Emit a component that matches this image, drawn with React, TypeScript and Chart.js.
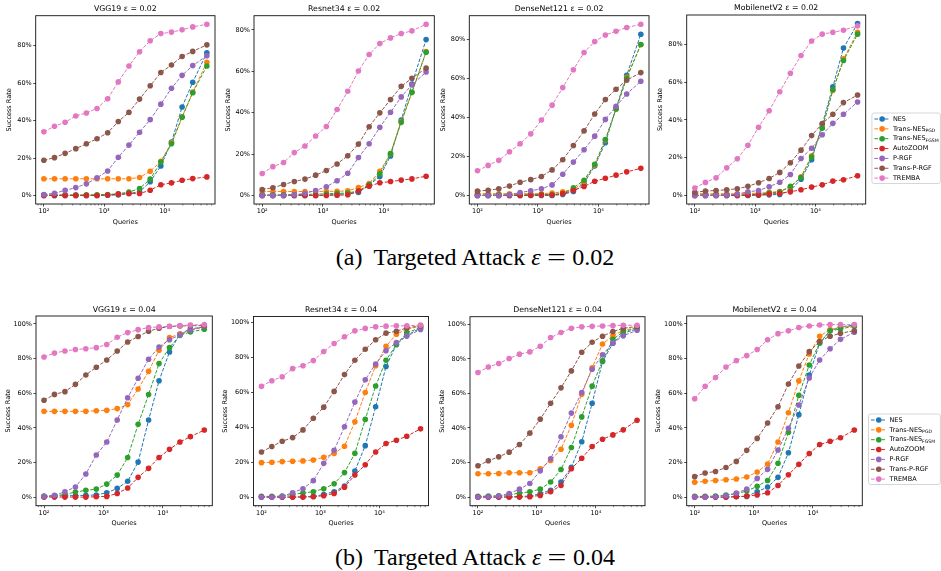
import React, { useEffect, useRef } from "react";
import { Chart, registerables } from "chart.js";

Chart.register(...registerables);

// ---------------- data ----------------
const queries = [100, 150, 225, 338, 506, 759, 1139, 1709, 2563, 3844, 5767, 8650, 12975, 19462, 29193, 50000];
const seriesNames = ["NES", "Trans-NES", "Trans-NES", "AutoZOOM", "P-RGF", "Trans-P-RGF", "TREMBA"];
const seriesSubs = ["", "PGD", "FGSM", "", "", "", ""];
const xTickValues = [100, 1000, 10000];
const xTickLabels = ["10²", "10³", "10⁴"];
const yTickValues = [0, 20, 40, 60, 80, 100];

// VGG19 eps 0.02
const vgg19_e02_nes = [0, 0, 0, 0, 0, 0, 0.1, 0.3, 1.0, 2.0, 7.3, 15.8, 28.5, 47.3, 60.5, 76.3];
const vgg19_e02_pgd = [8.9, 8.9, 8.9, 8.9, 8.9, 8.9, 8.9, 8.9, 8.9, 9.6, 12.9, 18.2, 28.1, 42.0, 55.2, 71.2];
const vgg19_e02_fgsm = [0.3, 0.3, 0.3, 0.3, 0.3, 0.4, 0.5, 0.9, 1.8, 3.7, 8.7, 17.9, 27.6, 41.8, 54.9, 69.2];
const vgg19_e02_zoo = [0, 0, 0, 0, 0, 0, 0.2, 0.7, 1.0, 1.0, 2.8, 5.7, 6.7, 8.1, 9.0, 9.9];
const vgg19_e02_prgf = [0.5, 1.2, 2.7, 4.2, 6.2, 9.4, 13.1, 20.4, 26.9, 33.8, 40.5, 48.8, 57.3, 64.2, 69.4, 74.7];
const vgg19_e02_tprgf = [18.8, 20.2, 22.5, 25.0, 27.6, 30.3, 33.5, 39.5, 44.4, 51.5, 58.6, 65.7, 69.7, 74.3, 77.0, 80.5];
const vgg19_e02_tremba = [34.0, 37.0, 39.1, 42.5, 44.1, 46.5, 51.7, 60.7, 69.2, 76.8, 82.7, 86.5, 87.3, 88.5, 90.1, 91.5];

// Resnet34 eps 0.02
const res34_e02_nes = [0, 0, 0, 0, 0, 0, 0.2, 0.5, 0.8, 1.4, 5.1, 9.1, 19.1, 36.4, 53.8, 75.3];
const res34_e02_pgd = [1.9, 1.9, 1.9, 1.9, 1.9, 1.9, 2.0, 2.0, 2.2, 3.8, 5.8, 11.7, 20.2, 35.7, 49.8, 69.5];
const res34_e02_fgsm = [0.3, 0.3, 0.3, 0.4, 0.5, 0.6, 0.8, 1.0, 1.2, 2.1, 5.3, 10.4, 20.2, 35.3, 49.8, 69.2];
const res34_e02_zoo = [0, 0, 0, 0, 0, 0, 0, 0.1, 0.3, 2.1, 4.5, 6.1, 6.7, 7.4, 8.0, 9.3];
const res34_e02_prgf = [0, 0, 0, 0.3, 1.0, 2.4, 4.2, 7.1, 10.7, 18.3, 25.0, 32.9, 40.2, 47.6, 53.4, 59.6];
const res34_e02_tprgf = [2.9, 3.7, 5.3, 6.7, 7.9, 9.8, 12.0, 15.2, 19.2, 24.8, 33.2, 39.9, 46.3, 52.7, 56.6, 61.5];
const res34_e02_tremba = [10.6, 13.9, 15.9, 20.7, 23.9, 28.7, 33.3, 41.5, 50.3, 60.1, 68.1, 73.4, 76.1, 78.2, 79.5, 82.7];

// DenseNet121 eps 0.02
const dense_e02_nes = [0, 0, 0, 0, 0, 0, 0, 0, 0.5, 2.0, 6.3, 15.1, 27.0, 44.7, 61.6, 82.7];
const dense_e02_pgd = [0.9, 0.9, 0.9, 0.9, 0.9, 0.9, 0.9, 1.2, 1.9, 2.9, 7.1, 15.6, 28.4, 44.3, 60.6, 77.3];
const dense_e02_fgsm = [0.3, 0.3, 0.3, 0.3, 0.4, 0.4, 0.5, 0.5, 1.0, 3.9, 7.8, 16.0, 28.7, 44.3, 60.1, 77.4];
const dense_e02_zoo = [0, 0, 0, 0, 0, 0.1, 0.2, 0.2, 1.0, 2.5, 4.6, 7.3, 8.8, 10.4, 12.1, 13.9];
const dense_e02_prgf = [0, 0, 0, 0.3, 1.5, 2.4, 3.4, 5.4, 10.9, 17.1, 23.4, 30.4, 39.0, 45.7, 52.0, 58.6];
const dense_e02_tprgf = [2.2, 2.7, 3.4, 4.8, 6.8, 8.1, 9.7, 13.1, 18.3, 25.6, 33.1, 41.8, 49.2, 54.5, 59.1, 63.0];
const dense_e02_tremba = [12.7, 15.4, 18.0, 22.4, 26.5, 31.6, 38.7, 46.3, 55.3, 64.5, 73.3, 78.9, 82.3, 84.2, 86.1, 87.8];

// MobilenetV2 eps 0.02
const mob_e02_nes = [0, 0, 0, 0, 0, 0, 0.1, 0.3, 0.5, 2.6, 8.6, 18.9, 37.7, 57.6, 78.1, 91.1];
const mob_e02_pgd = [0.9, 0.9, 0.9, 0.9, 0.9, 1.0, 1.2, 1.6, 2.1, 4.2, 9.9, 21.0, 36.1, 55.7, 72.4, 86.5];
const mob_e02_fgsm = [0.3, 0.3, 0.3, 0.3, 0.3, 0.4, 0.6, 1.2, 1.9, 4.8, 9.5, 20.3, 35.6, 56.0, 71.5, 85.5];
const mob_e02_zoo = [0, 0, 0, 0, 0, 0.1, 0.3, 0.7, 1.1, 1.9, 3.0, 4.4, 5.6, 7.6, 8.3, 10.4];
const mob_e02_prgf = [0, 0, 0, 0.2, 0.7, 1.9, 2.6, 4.6, 7.0, 11.1, 19.6, 25.0, 32.2, 38.2, 43.0, 49.5];
const mob_e02_tprgf = [1.6, 2.3, 2.6, 3.0, 3.5, 4.8, 6.7, 9.0, 12.2, 17.3, 24.0, 31.7, 38.1, 43.0, 49.2, 53.2];
const mob_e02_tremba = [3.9, 6.9, 9.3, 14.6, 19.4, 26.6, 36.1, 44.9, 55.0, 64.8, 74.2, 81.9, 85.5, 86.5, 87.6, 89.9];

// VGG19 eps 0.04
const vgg19_e04_nes = [0.4, 0.6, 0.8, 0.8, 1.0, 1.2, 2.5, 5.0, 9.1, 20.2, 44.5, 67.2, 83.8, 94.2, 97.1, 98.3];
const vgg19_e04_pgd = [49.5, 49.5, 49.5, 49.5, 49.5, 49.9, 50.1, 51.1, 53.4, 62.4, 72.6, 84.8, 92.1, 94.2, 96.5, 98.1];
const vgg19_e04_fgsm = [0.4, 0.8, 1.5, 2.9, 3.9, 4.6, 7.5, 12.7, 22.9, 42.0, 59.2, 77.1, 86.3, 93.4, 95.4, 96.9];
const vgg19_e04_zoo = [0, 0, 0, 0, 0, 0.2, 0.4, 2.1, 5.2, 11.4, 16.6, 22.9, 27.6, 31.8, 34.9, 38.7];
const vgg19_e04_prgf = [0.4, 1.0, 3.1, 5.8, 13.3, 24.3, 31.8, 44.5, 57.4, 68.6, 79.6, 86.7, 90.9, 93.6, 96.5, 98.5];
const vgg19_e04_tprgf = [55.9, 59.3, 60.9, 65.1, 70.5, 75.0, 79.2, 84.4, 89.6, 92.7, 95.8, 97.5, 98.5, 98.8, 99.0, 99.0];
const vgg19_e04_tremba = [80.9, 83.2, 84.4, 85.2, 85.7, 86.3, 88.1, 92.3, 95.0, 96.7, 97.9, 98.3, 98.7, 99.0, 99.4, 99.6];

// Resnet34 eps 0.04
const res34_e04_nes = [0, 0, 0, 0, 0.2, 0.4, 1.5, 3.1, 6.3, 14.9, 29.4, 51.6, 74.6, 87.2, 92.4, 96.6];
const res34_e04_pgd = [19.7, 19.9, 20.3, 20.5, 20.7, 21.2, 22.8, 24.9, 29.1, 43.0, 59.8, 75.1, 86.2, 93.1, 96.0, 97.7];
const res34_e04_fgsm = [0.4, 0.4, 0.6, 1.5, 2.3, 3.1, 4.8, 7.6, 14.0, 25.0, 44.4, 63.5, 78.2, 87.2, 93.9, 96.9];
const res34_e04_zoo = [0, 0, 0, 0, 0, 0.2, 0.8, 2.1, 5.7, 12.6, 18.5, 25.8, 30.6, 32.5, 34.8, 39.0];
const res34_e04_prgf = [0, 0, 0.4, 2.5, 4.8, 9.4, 19.3, 26.8, 40.2, 54.3, 67.1, 76.1, 83.7, 88.3, 92.0, 95.8];
const res34_e04_tprgf = [25.8, 28.9, 31.9, 34.0, 38.4, 45.1, 51.4, 60.4, 70.0, 78.2, 84.5, 89.9, 93.7, 94.8, 96.7, 97.9];
const res34_e04_tremba = [63.3, 66.5, 68.8, 73.4, 75.1, 78.0, 83.2, 87.8, 91.6, 95.0, 96.4, 97.3, 97.7, 97.9, 97.9, 98.3];

// DenseNet121 eps 0.04
const dense_e04_nes = [0, 0, 0, 0.2, 0.4, 0.6, 1.9, 4.0, 8.7, 17.3, 32.0, 54.3, 78.4, 89.0, 94.8, 97.3];
const dense_e04_pgd = [13.5, 13.5, 13.7, 14.1, 14.1, 14.1, 16.4, 21.2, 27.7, 41.6, 59.5, 74.8, 88.6, 93.4, 96.5, 98.1];
const dense_e04_fgsm = [0.4, 0.6, 0.8, 1.3, 2.3, 3.1, 4.6, 8.7, 16.0, 28.7, 46.4, 64.2, 78.8, 91.3, 95.6, 97.9];
const dense_e04_zoo = [0, 0, 0, 0, 0, 0.2, 1.0, 3.1, 6.7, 16.4, 22.5, 29.3, 33.5, 36.0, 38.9, 44.5];
const dense_e04_prgf = [0, 0.2, 0.6, 2.1, 4.6, 7.9, 15.2, 22.2, 34.9, 48.6, 60.5, 74.0, 82.3, 89.2, 93.3, 96.5];
const dense_e04_tprgf = [18.1, 21.0, 23.3, 26.0, 30.4, 37.0, 45.1, 54.3, 63.2, 73.0, 83.8, 89.6, 93.1, 95.8, 97.7, 98.7];
const dense_e04_tremba = [72.1, 75.3, 77.3, 80.2, 82.7, 84.0, 87.3, 92.3, 95.2, 97.7, 98.5, 98.8, 99.0, 99.2, 99.4, 99.4];

// MobilenetV2 eps 0.04
const mob_e04_nes = [0, 0, 0, 0, 0.2, 0.4, 3.1, 5.8, 11.4, 25.6, 47.6, 70.5, 89.0, 96.0, 98.3, 99.4];
const mob_e04_pgd = [8.5, 9.1, 9.6, 10.0, 10.4, 11.6, 14.5, 19.1, 31.8, 48.7, 67.1, 82.7, 92.9, 96.7, 98.1, 98.8];
const mob_e04_fgsm = [0.4, 0.4, 0.6, 1.2, 1.9, 3.5, 6.2, 9.6, 19.5, 37.4, 58.8, 76.3, 89.0, 96.0, 97.1, 98.7];
const mob_e04_zoo = [0, 0, 0, 0, 0.2, 0.6, 1.2, 2.5, 6.7, 12.9, 18.9, 25.2, 30.3, 32.2, 34.3, 38.7];
const mob_e04_prgf = [0, 0, 0.2, 0.8, 2.3, 4.6, 10.8, 16.0, 27.2, 39.7, 53.2, 68.8, 79.2, 85.7, 91.1, 95.2];
const mob_e04_tprgf = [11.8, 13.9, 14.8, 17.1, 20.6, 27.0, 33.9, 42.8, 52.2, 65.3, 75.7, 84.0, 89.8, 92.9, 94.6, 96.1];
const mob_e04_tremba = [56.8, 64.0, 69.0, 75.1, 78.8, 81.7, 85.2, 90.8, 94.4, 96.0, 97.9, 98.8, 99.4, 99.6, 99.6, 99.6];

const panelTitles = [
  "VGG19 ε = 0.02", "Resnet34 ε = 0.02", "DenseNet121 ε = 0.02", "MobilenetV2 ε = 0.02",
  "VGG19 ε = 0.04", "Resnet34 ε = 0.04", "DenseNet121 ε = 0.04", "MobilenetV2 ε = 0.04",
];
const panelSeries = [
  [vgg19_e02_nes, vgg19_e02_pgd, vgg19_e02_fgsm, vgg19_e02_zoo, vgg19_e02_prgf, vgg19_e02_tprgf, vgg19_e02_tremba],
  [res34_e02_nes, res34_e02_pgd, res34_e02_fgsm, res34_e02_zoo, res34_e02_prgf, res34_e02_tprgf, res34_e02_tremba],
  [dense_e02_nes, dense_e02_pgd, dense_e02_fgsm, dense_e02_zoo, dense_e02_prgf, dense_e02_tprgf, dense_e02_tremba],
  [mob_e02_nes, mob_e02_pgd, mob_e02_fgsm, mob_e02_zoo, mob_e02_prgf, mob_e02_tprgf, mob_e02_tremba],
  [vgg19_e04_nes, vgg19_e04_pgd, vgg19_e04_fgsm, vgg19_e04_zoo, vgg19_e04_prgf, vgg19_e04_tprgf, vgg19_e04_tremba],
  [res34_e04_nes, res34_e04_pgd, res34_e04_fgsm, res34_e04_zoo, res34_e04_prgf, res34_e04_tprgf, res34_e04_tremba],
  [dense_e04_nes, dense_e04_pgd, dense_e04_fgsm, dense_e04_zoo, dense_e04_prgf, dense_e04_tprgf, dense_e04_tremba],
  [mob_e04_nes, mob_e04_pgd, mob_e04_fgsm, mob_e04_zoo, mob_e04_prgf, mob_e04_tprgf, mob_e04_tremba],
];

// ---------------- layout & style ----------------
const seriesColors = ["#1f77b4", "#ff7f0e", "#2ca02c", "#d62728", "#9467bd", "#8c564b", "#e377c2"];
// chart area [left, top, right, bottom], title center y, y-axis width, has legend
const panelLayout = [
  { area: [35.7, 15.7, 215, 204], titleY: 9, yAxisW: 30, legend: false },
  { area: [254, 15.7, 434.3, 204], titleY: 9, yAxisW: 30, legend: false },
  { area: [469.3, 15.7, 649, 204], titleY: 9, yAxisW: 30, legend: false },
  { area: [686.7, 15, 865.7, 204], titleY: 7.8, yAxisW: 30, legend: true },
  { area: [36, 316, 212.3, 505.7], titleY: 310, yAxisW: 31.8, legend: false },
  { area: [253.5, 316.5, 428.5, 505.7], titleY: 310, yAxisW: 31.8, legend: false },
  { area: [470, 316.7, 645, 505.7], titleY: 310, yAxisW: 31.8, legend: false },
  { area: [686.7, 316, 862.3, 505.7], titleY: 309.5, yAxisW: 31.8, legend: true },
];
const FONT = "DejaVu Sans";
const TICK_FONT = 6.5;
const TITLE_FONT = 7.8;
const X_AXIS_H = 22;

const framePlugin = {
  id: "frame",
  afterDatasetsDraw(chart: any) {
    const { ctx, chartArea } = chart;
    const { left, top, right, bottom } = chartArea;
    ctx.save();
    // minor log ticks
    const xs = chart.scales.x;
    ctx.strokeStyle = "#000";
    ctx.lineWidth = 0.5;
    for (let d = 1; d <= 4; d++) {
      for (let m = 2; m <= 9; m++) {
        const v = m * Math.pow(10, d);
        if (v < xs.min || v > xs.max) continue;
        const px = xs.getPixelForValue(v);
        ctx.beginPath();
        ctx.moveTo(px, bottom);
        ctx.lineTo(px, bottom + 1.5);
        ctx.stroke();
      }
    }
    // frame
    ctx.lineWidth = 0.9;
    ctx.strokeStyle = "#111";
    ctx.strokeRect(left, top, right - left, bottom - top);
    ctx.restore();
  },
  afterDraw(chart: any, _args: any, opts: any) {
    if (!opts || !opts.legend) return;
    const { ctx, chartArea } = chart;
    const bx = chartArea.right + 6.2;
    const by = chartArea.top + 98;
    const bw = chart.width - 0.6 - bx;
    const bh = 70.5;
    ctx.save();
    ctx.beginPath();
    if ((ctx as any).roundRect) (ctx as any).roundRect(bx, by, bw, bh, 2);
    else ctx.rect(bx, by, bw, bh);
    ctx.fillStyle = "rgba(255,255,255,0.85)";
    ctx.fill();
    ctx.strokeStyle = "#cccccc";
    ctx.lineWidth = 0.8;
    ctx.stroke();
    chart.data.datasets.forEach((ds: any, i: number) => {
      const y = by + 6 + i * 9.85;
      const hx0 = bx + 2.5;
      const hx1 = bx + 18;
      ctx.strokeStyle = ds.borderColor;
      ctx.lineWidth = 1;
      ctx.setLineDash([3.6, 1.6]);
      ctx.beginPath();
      ctx.moveTo(hx0, y);
      ctx.lineTo(hx1, y);
      ctx.stroke();
      ctx.setLineDash([]);
      ctx.fillStyle = ds.borderColor;
      ctx.beginPath();
      ctx.arc((hx0 + hx1) / 2, y, 2.8, 0, Math.PI * 2);
      ctx.fill();
      ctx.fillStyle = "#000";
      ctx.textBaseline = "middle";
      ctx.textAlign = "left";
      ctx.font = `${TICK_FONT}px "${FONT}"`;
      const tx = bx + 21;
      ctx.fillText(seriesNames[i], tx, y);
      if (seriesSubs[i]) {
        const w = ctx.measureText(seriesNames[i]).width;
        ctx.font = `4.6px "${FONT}"`;
        ctx.fillText(seriesSubs[i], tx + w, y + 1.7);
      }
    });
    ctx.restore();
  },
};

function Panel({ index }: { index: number }) {
  const ref = useRef<HTMLCanvasElement>(null);
  const lay = panelLayout[index];
  const [l, t, r, b] = lay.area;
  const titleLH = TITLE_FONT * 1.2;
  const titlePadTop = 1;
  const titleTop = lay.titleY - titleLH / 2 - titlePadTop;
  const cx = Math.floor(l - lay.yAxisW - 2);
  const cy = Math.floor(titleTop - 1);
  const cr = lay.legend ? 941 : Math.ceil(r + 10);
  const cb = Math.ceil(b + X_AXIS_H + 2);
  const cw = cr - cx;
  const ch = cb - cy;

  useEffect(() => {
    const series = panelSeries[index];
    const all = series.flat();
    const dmin = Math.min(...all);
    const dmax = Math.max(...all);
    const yr = dmax - dmin;
    const ymin = dmin - 0.05 * yr;
    const ymax = dmax + 0.05 * yr;
    const lq0 = Math.log10(Math.min(...queries));
    const lq1 = Math.log10(Math.max(...queries));
    const xmin = Math.pow(10, lq0 - 0.05 * (lq1 - lq0));
    const xmax = Math.pow(10, lq1 + 0.05 * (lq1 - lq0));

    const chart = new Chart(ref.current as HTMLCanvasElement, {
      type: "line",
      data: {
        datasets: series.map((vals, i) => ({
          label: seriesNames[i] + (seriesSubs[i] ? seriesSubs[i] : ""),
          data: queries.map((q, k) => ({ x: q, y: vals[k] })),
          borderColor: seriesColors[i],
          backgroundColor: seriesColors[i],
          pointBackgroundColor: seriesColors[i],
          pointBorderColor: seriesColors[i],
          pointBorderWidth: 0,
          pointRadius: 2.8,
          borderWidth: 1,
          borderDash: [3.6, 1.6],
          tension: 0,
          fill: false,
          order: series.length - i,
        })),
      },
      options: {
        animation: false,
        responsive: false,
        devicePixelRatio: window.devicePixelRatio || 1,
        events: [],
        layout: {
          autoPadding: false,
          padding: {
            left: l - lay.yAxisW - cx,
            top: titleTop - cy,
            right: cr - r,
            bottom: cb - (b + X_AXIS_H),
          },
        },
        plugins: {
          legend: { display: false },
          tooltip: { enabled: false },
          title: {
            display: true,
            text: panelTitles[index],
            fullSize: false,
            color: "#000",
            font: { family: FONT, size: TITLE_FONT, weight: "normal", lineHeight: 1.2 },
            padding: { top: titlePadTop, bottom: t - (lay.titleY + titleLH / 2) },
          },
          frame: { legend: lay.legend },
        } as any,
        scales: {
          x: {
            type: "logarithmic",
            min: xmin,
            max: xmax,
            afterBuildTicks: (s: any) => {
              s.ticks = xTickValues.map((v) => ({ value: v }));
            },
            afterFit: (s: any) => {
              s.height = X_AXIS_H;
            },
            ticks: {
              autoSkip: false,
              maxRotation: 0,
              padding: 0.8,
              color: "#000",
              font: { family: FONT, size: TICK_FONT },
              callback: (_v: any, i: number) => xTickLabels[i],
            },
            grid: { drawOnChartArea: false, drawTicks: true, tickLength: 2.5, tickColor: "#000", tickWidth: 0.7 },
            border: { display: false },
            title: {
              display: true,
              text: "Queries",
              color: "#000",
              font: { family: FONT, size: TICK_FONT, lineHeight: 1.2 },
              padding: 0,
            },
          },
          y: {
            type: "linear",
            min: ymin,
            max: ymax,
            afterBuildTicks: (s: any) => {
              s.ticks = yTickValues.filter((v) => v >= ymin && v <= ymax).map((v) => ({ value: v }));
            },
            afterFit: (s: any) => {
              s.width = lay.yAxisW;
            },
            ticks: {
              autoSkip: false,
              padding: 1.5,
              color: "#000",
              font: { family: FONT, size: TICK_FONT },
              callback: (v: any) => `${Math.round(Number(v))}%`,
            },
            grid: { drawOnChartArea: false, drawTicks: true, tickLength: 2.5, tickColor: "#000", tickWidth: 0.7 },
            border: { display: false },
            title: {
              display: true,
              text: "Success Rate",
              color: "#000",
              font: { family: FONT, size: TICK_FONT, lineHeight: 1.2 },
              padding: 0,
            },
          },
        },
      } as any,
      plugins: [framePlugin as any],
    });
    return () => chart.destroy();
  }, [index]);

  return (
    <canvas
      ref={ref}
      width={cw}
      height={ch}
      style={{ position: "absolute", left: cx, top: cy, width: cw, height: ch }}
    />
  );
}

const captionStyle: React.CSSProperties = {
  position: "absolute",
  left: 475,
  transform: "translate(-50%, -50%)",
  fontFamily: '"Liberation Serif", "Times New Roman", serif',
  fontSize: 24,
  whiteSpace: "nowrap",
  color: "#000",
  lineHeight: "28px",
};

function Caption({ tag, eps, top }: { tag: string; eps: string; top: number }) {
  return (
    <div style={{ ...captionStyle, top }}>
      {tag}
      <span style={{ marginLeft: 11 }}>Targeted Attack</span> <i>ε</i>
      <span style={{ display: "inline-block", margin: "0 9px", transform: "scaleX(1.4)" }}>=</span>
      {eps}
    </div>
  );
}

export default function App() {
  return (
    <div style={{ position: "absolute", left: 0, top: 0, width: 941, height: 571, background: "#fff", overflow: "hidden" }}>
      {panelLayout.map((_, i) => (
        <Panel key={i} index={i} />
      ))}
      <Caption tag="(a)" eps="0.02" top={256.5} />
      <Caption tag="(b)" eps="0.04" top={557} />
    </div>
  );
}
